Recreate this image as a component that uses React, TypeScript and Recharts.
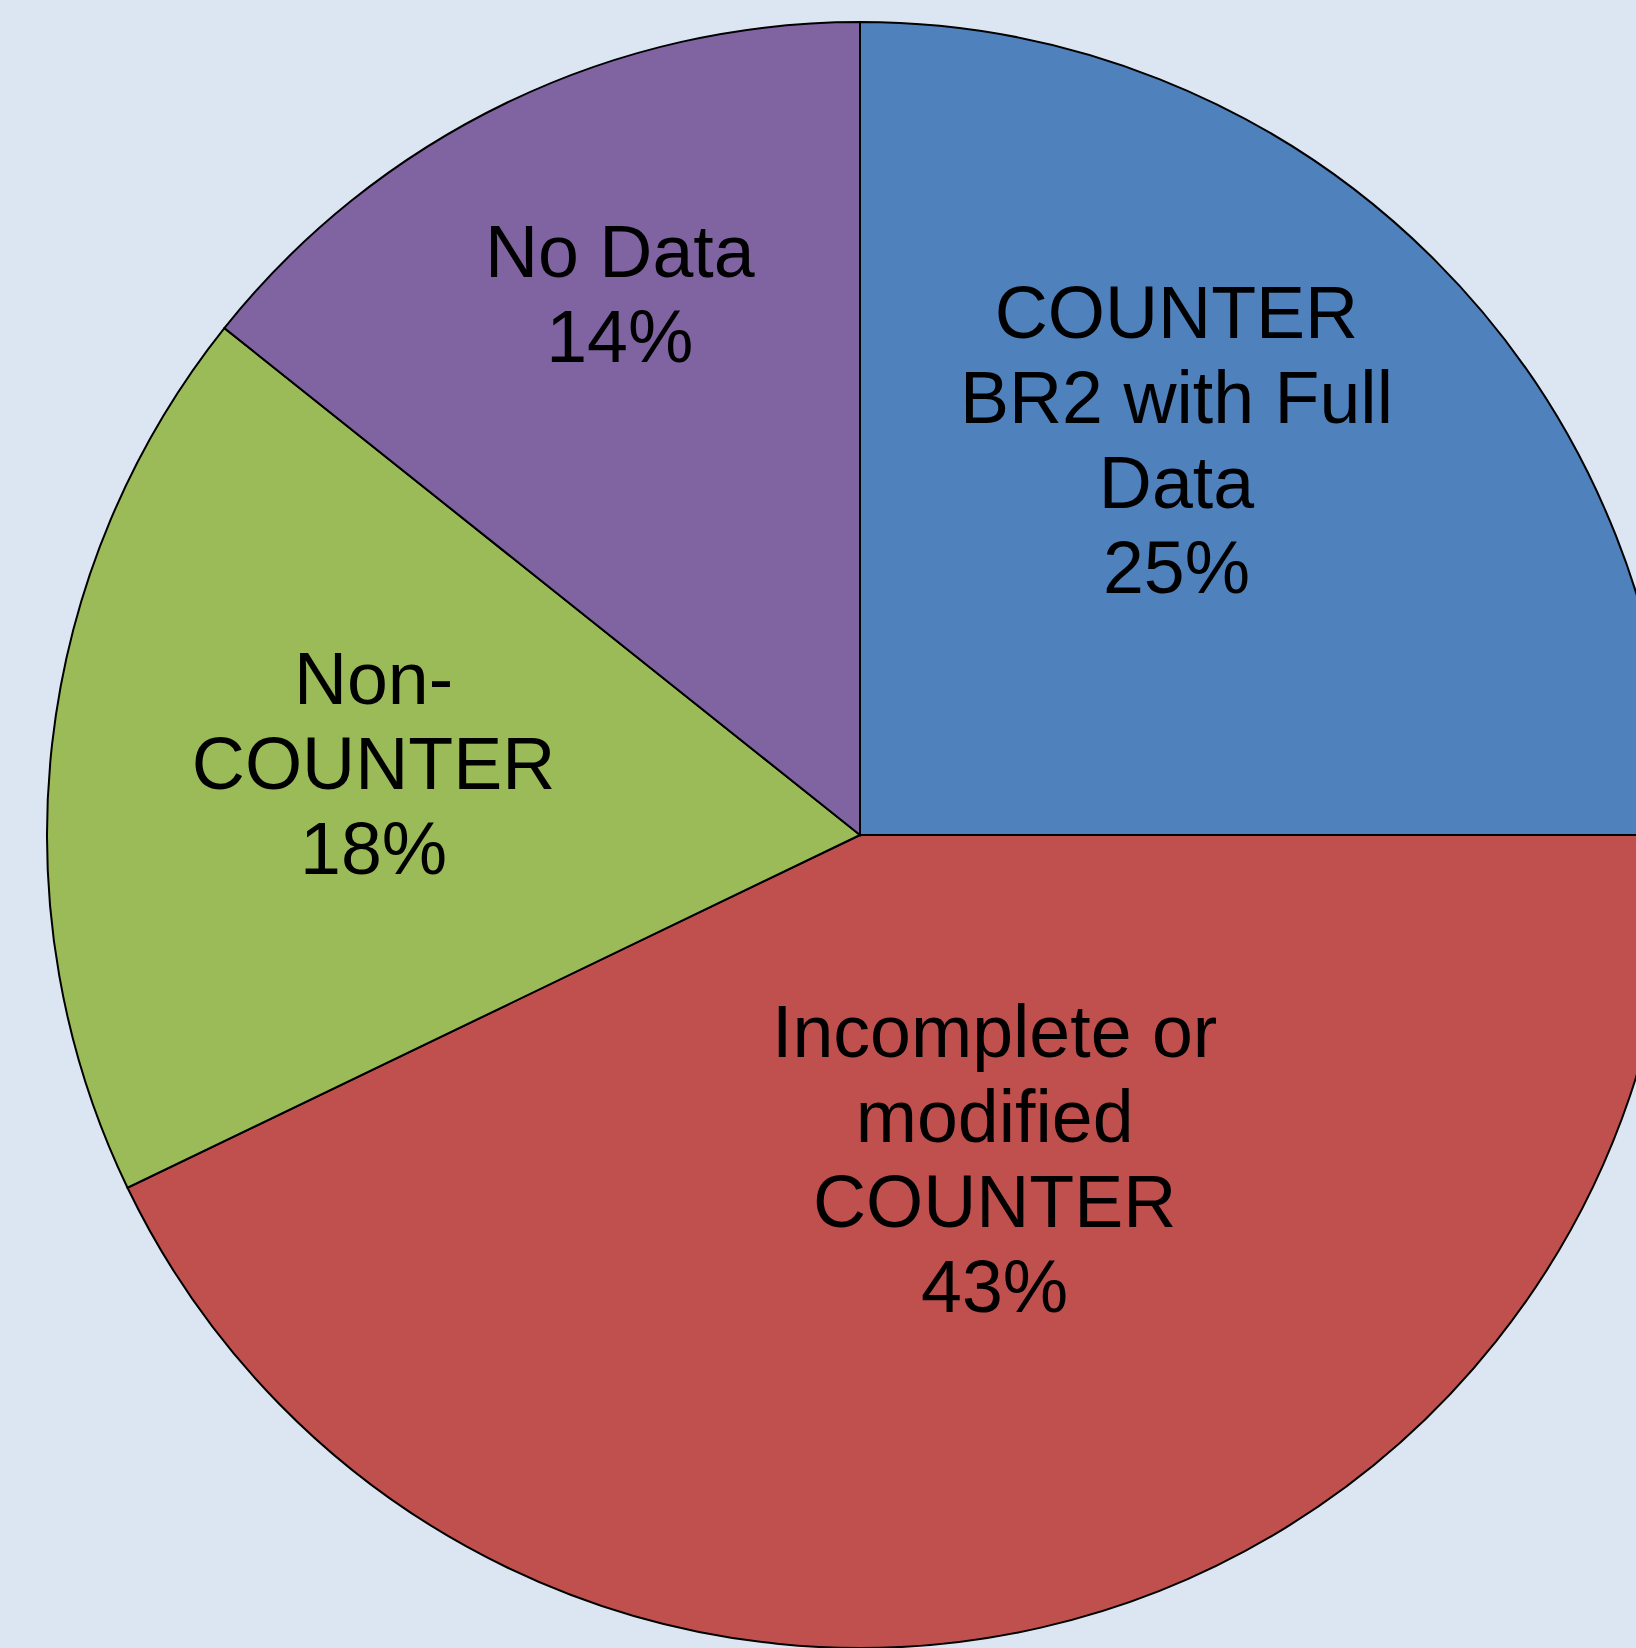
import { PieChart, Pie, Cell } from "recharts"

const categories = [
  "COUNTER BR2 with Full Data",
  "Incomplete or modified COUNTER",
  "Non-COUNTER",
  "No Data",
]

// counts (25 / 42.9 / 17.9 / 14.3 %)
const counts = [35, 60, 25, 20]

// label text as wrapped in the picture
const labelLines = [
  ["COUNTER", "BR2 with Full", "Data"],
  ["Incomplete or", "modified", "COUNTER"],
  ["Non-", "COUNTER"],
  ["No Data"],
]

const colors = ["#4F81BD", "#C0504D", "#9BBB59", "#8064A2"]

// where each label block sits: fraction of the radius, and a nudge off the mid angle (deg)
const labelPlacement = [
  { r: 0.624, shift: 6.4 },
  { r: 0.43, shift: 9.8 },
  { r: 0.605, shift: -2.1 },
  { r: 0.729, shift: -1.8 },
]

const data = categories.map((name, i) => ({ name, value: counts[i] }))

const FONT_SIZE = 73.5
const LINE_H = 85
const CAP_H = 53
const RADIAN = Math.PI / 180

type LabelProps = {
  cx: number
  cy: number
  midAngle: number
  outerRadius: number
  percent: number
  index: number
}

function renderLabel({ cx, cy, midAngle, outerRadius, percent, index }: LabelProps) {
  const place = labelPlacement[index]
  const angle = (midAngle + place.shift) * RADIAN
  const x = cx + outerRadius * place.r * Math.cos(angle)
  const y = cy - outerRadius * place.r * Math.sin(angle)
  const lines = [...labelLines[index], `${Math.round(percent * 100)}%`]
  const blockH = (lines.length - 1) * LINE_H + CAP_H
  const firstBaseline = y - blockH / 2 + CAP_H

  return (
    <text
      key={`label-${index}`}
      x={x}
      y={firstBaseline}
      textAnchor="middle"
      fill="#000"
      fontSize={FONT_SIZE}
      fontFamily="'Liberation Sans', Arial, sans-serif"
    >
      {lines.map((line, i) => (
        <tspan key={i} x={x} y={firstBaseline + i * LINE_H}>
          {line}
        </tspan>
      ))}
    </text>
  )
}

export default function App() {
  return (
    <div
      style={{
        position: "absolute",
        left: 0,
        top: 0,
        width: 1636,
        height: 1648,
        background: "#DCE6F2",
        overflow: "hidden",
      }}
    >
      <PieChart width={1636} height={1648} margin={{ top: 0, right: 0, bottom: 0, left: 0 }}>
        <Pie
          data={data}
          dataKey="value"
          nameKey="name"
          cx={860}
          cy={835}
          outerRadius={813}
          startAngle={90}
          endAngle={-270}
          stroke="#000"
          strokeWidth={2}
          labelLine={false}
          label={renderLabel}
          isAnimationActive={false}
        >
          {data.map((d, i) => (
            <Cell key={d.name} fill={colors[i]} />
          ))}
        </Pie>
      </PieChart>
    </div>
  )
}
